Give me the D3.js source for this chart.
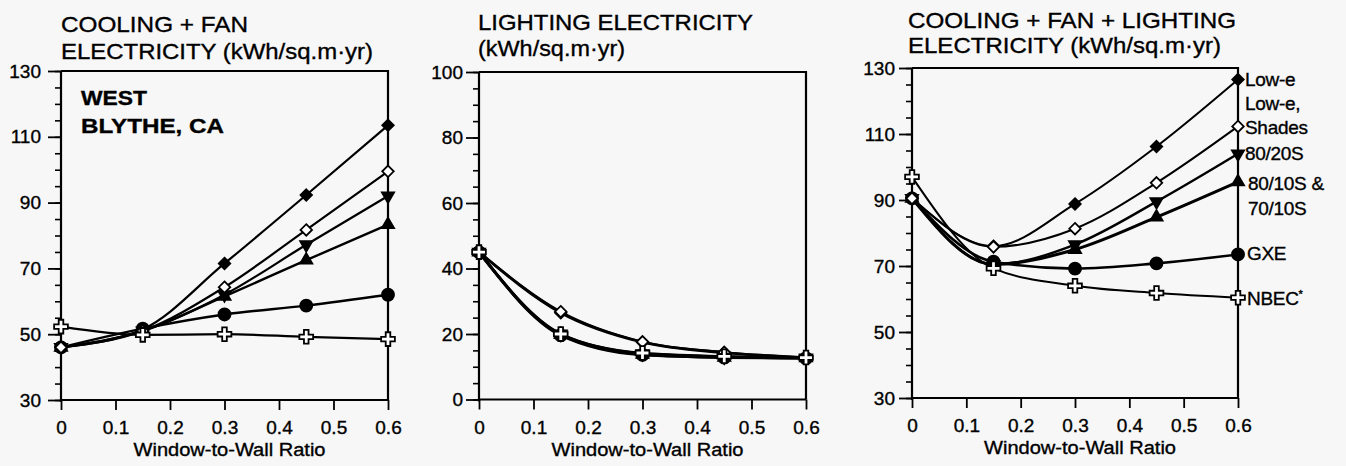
<!DOCTYPE html>
<html>
<head>
<meta charset="utf-8">
<script src="https://cdn.jsdelivr.net/npm/d3@7"></script>
<style>
  html, body { margin: 0; padding: 0; background: #f7f7f7; }
  svg { display: block; }
  text { font-family: "Liberation Sans", Arial, Helvetica, sans-serif; fill: #000; stroke: #000; stroke-width: 0.35px; }
</style>
</head>
<body>
<svg id="chart" width="1346" height="466"></svg>
<script>
// ---------------- DATA ----------------
const wwr = [0, 0.15, 0.3, 0.45, 0.6];
const xTicks = [0, 0.1, 0.2, 0.3, 0.4, 0.5, 0.6];
const xTickLabels = ["0", "0.1", "0.2", "0.3", "0.4", "0.5", "0.6"];
const seriesNames = ["Low-e", "Low-e, Shades", "80/20S", "80/10S & 70/10S", "GXE", "NBEC*"];

// Cooling + fan electricity (kWh/sq.m-yr)
const coolLowE   = [46, 51.5, 71.5, 92.3, 113.5];
const coolShades = [46, 51, 64.3, 81.7, 99.5];
const cool8020   = [46, 51, 62, 77.2, 92];
const cool8010   = [46, 51, 61.5, 72.5, 83.3];
const coolGXE    = [46, 51.7, 56, 58.7, 62];
const coolNBEC   = [52.3, 49.8, 50, 49.2, 48.5];

// Lighting electricity
const lightLowE   = [45, 26.5, 17.5, 14.3, 12.8];
const lightShades = [45, 26.8, 17.6, 14.4, 12.8];
const light8020   = [45, 20, 14, 13, 12.7];
const light8010   = [45, 19.8, 13.8, 12.9, 12.7];
const lightGXE    = [45, 19.6, 13.6, 12.8, 12.6];
const lightNBEC   = [45, 20, 14.2, 13.2, 12.8];

// Cooling + fan + lighting electricity
const totLowE   = [90.5, 76, 88.8, 106.2, 126.5];
const totShades = [90.5, 75.8, 81.3, 95.2, 112.3];
const tot8020   = [90.5, 70.5, 76.5, 89.5, 104];
const tot8010   = [90.5, 70.5, 75, 84.8, 95.5];
const totGXE    = [90.5, 71.3, 69.2, 70.8, 73.5];
const totNBEC   = [97, 69.3, 64, 61.8, 60.4];

const yTicksCool = [30, 50, 70, 90, 110, 130];
const yTicksLight = [0, 20, 40, 60, 80, 100];

// ---------------- MARKERS ----------------
const diamondType = { draw(ctx, size) { const r = Math.sqrt(size / 2);
  ctx.moveTo(0, -r); ctx.lineTo(r, 0); ctx.lineTo(0, r); ctx.lineTo(-r, 0); ctx.closePath(); } };
const markerStyles = [
  { type: diamondType, size: 66, fill: "#000", rot: 0 },        // Low-e
  { type: diamondType, size: 66, fill: "#fff", rot: 0 },        // Low-e, Shades
  { type: d3.symbolTriangle, size: 64, fill: "#000", rot: 180 },// 80/20S
  { type: d3.symbolTriangle, size: 64, fill: "#000", rot: 0 },  // 80/10S
  { type: d3.symbolCircle, size: 115, fill: "#000", rot: 0 },   // GXE
  { type: d3.symbolCross, size: 105, fill: "#fff", rot: 0 }     // NBEC
];
const drawOrder = [4, 3, 2, 0, 1, 5];

const svg = d3.select("#chart");

function panel(cfg) {
  const x = d3.scaleLinear().domain([0, 0.6]).range([cfg.x0, cfg.x1]);
  const y = d3.scaleLinear().domain(cfg.yDomain).range([cfg.yBot, cfg.yTop]);
  const g = svg.append("g");

  // frame top & right
  g.append("path")
    .attr("d", `M${cfg.x0},${cfg.yTop}H${cfg.x1}V${cfg.yBot}`)
    .attr("fill", "none").attr("stroke", "#000").attr("stroke-width", 2.2);

  // y minor ticks
  const minor = d3.range(cfg.yDomain[0], cfg.yDomain[1] + 0.01, 5);
  g.append("g").attr("transform", `translate(${cfg.x0},0)`)
    .call(d3.axisLeft(y).tickValues(minor).tickSize(6).tickFormat(""))
    .call(s => s.select(".domain").remove())
    .call(s => s.selectAll("line").attr("stroke-width", 1.6));
  // y major
  g.append("g").attr("transform", `translate(${cfg.x0},0)`)
    .call(d3.axisLeft(y).tickValues(cfg.yTicks).tickSize(13).tickPadding(cfg.yPad).tickFormat(d3.format("d")))
    .call(s => s.select(".domain").attr("stroke-width", 2.2).attr("d", `M0,${cfg.yTop}V${cfg.yBot + 2}`))
    .call(s => s.selectAll("line").attr("stroke-width", 1.8))
    .call(s => s.selectAll("text").style("font-size", "19px"));
  // x axis
  g.append("g").attr("transform", `translate(0,${cfg.yBot})`)
    .call(d3.axisBottom(x).tickValues(xTicks).tickSize(10).tickPadding(11)
      .tickFormat((d, i) => xTickLabels[i]))
    .call(s => s.select(".domain").attr("stroke-width", 2.2).attr("d", `M${cfg.x0},0H${cfg.x1}`))
    .call(s => s.selectAll("line").attr("stroke-width", 1.8))
    .call(s => s.selectAll("text").style("font-size", "19px"));

  // axis label
  g.append("text")
    .attr("x", (cfg.x0 + cfg.x1) / 2 + 5).attr("y", cfg.yBot + 56)
    .attr("text-anchor", "middle").style("font-size", "18px")
    .attr("textLength", 192).attr("lengthAdjust", "spacingAndGlyphs")
    .text("Window-to-Wall Ratio");

  // titles
  cfg.titles.forEach(t => {
    g.append("text").attr("x", t.x).attr("y", t.y).style("font-size", "22px")
      .attr("textLength", t.w).attr("lengthAdjust", "spacingAndGlyphs").text(t.text);
  });

  // lines
  const line = d3.line().x((d, i) => x(wwr[i])).y(d => y(d)).curve(d3.curveMonotoneX);
  drawOrder.forEach(k => {
    g.append("path").attr("d", line(cfg.series[k]))
      .attr("fill", "none").attr("stroke", "#000")
      .attr("stroke-width", cfg.lineWidths[k]).attr("stroke-linejoin", "round");
  });
  // markers
  drawOrder.forEach(k => {
    const m = markerStyles[k];
    g.append("g").selectAll("path").data(cfg.series[k]).join("path")
      .attr("d", d3.symbol().type(m.type).size(m.size))
      .attr("transform", (d, i) => `translate(${x(wwr[i])},${y(d)}) rotate(${m.rot})`)
      .attr("fill", m.fill).attr("stroke", "#000").attr("stroke-width", 1.8);
  });
  return { x, y, g };
}

panel({
  x0: 61, x1: 388, yTop: 71, yBot: 400, yDomain: [30, 130], yTicks: yTicksCool, yPad: 7,
  series: [coolLowE, coolShades, cool8020, cool8010, coolGXE, coolNBEC],
  lineWidths: [2.2, 2.2, 2.2, 2.4, 2.4, 2.2],
  titles: [
    { text: "COOLING + FAN", x: 61, y: 32, w: 187 },
    { text: "ELECTRICITY (kWh/sq.m\u00b7yr)", x: 61, y: 59, w: 312 }
  ]
});
svg.append("text").attr("x", 81).attr("y", 105).style("font-size", "21px").style("font-weight", "bold")
  .attr("textLength", 66).attr("lengthAdjust", "spacingAndGlyphs").text("WEST");
svg.append("text").attr("x", 81).attr("y", 133).style("font-size", "21px").style("font-weight", "bold")
  .attr("textLength", 143).attr("lengthAdjust", "spacingAndGlyphs").text("BLYTHE, CA");

panel({
  x0: 479, x1: 806, yTop: 72, yBot: 399.5, yDomain: [0, 100], yTicks: yTicksLight, yPad: 3,
  series: [lightLowE, lightShades, light8020, light8010, lightGXE, lightNBEC],
  lineWidths: [2.8, 2.4, 2.8, 2.8, 2.8, 2.4],
  titles: [
    { text: "LIGHTING ELECTRICITY", x: 478, y: 30, w: 275 },
    { text: "(kWh/sq.m\u00b7yr)", x: 478, y: 56, w: 147 }
  ]
});

panel({
  x0: 912, x1: 1238, yTop: 68, yBot: 398, yDomain: [30, 130], yTicks: yTicksCool, yPad: 4,
  series: [totLowE, totShades, tot8020, tot8010, totGXE, totNBEC],
  lineWidths: [2, 2, 2.4, 3, 2.6, 2],
  titles: [
    { text: "COOLING + FAN + LIGHTING", x: 908, y: 28, w: 328 },
    { text: "ELECTRICITY (kWh/sq.m\u00b7yr)", x: 908, y: 53, w: 313 }
  ]
});

// series labels on right of panel 3
const legendLines = [
  { t: "Low-e", y: 86, x: 1245 },
  { t: "Low-e,", y: 110, x: 1245 },
  { t: "Shades", y: 134, x: 1245 },
  { t: "80/20S", y: 160, x: 1245 },
  { t: "80/10S &", y: 190, x: 1248 },
  { t: "70/10S", y: 215, x: 1248 },
  { t: "GXE", y: 260, x: 1247 },
  { t: "NBEC", y: 305, x: 1247 }
];
legendLines.forEach(l => {
  const t = svg.append("text").attr("x", l.x).attr("y", l.y).style("font-size", "19px")
    .style("letter-spacing", "-0.3px").text(l.t);
  if (l.t === "NBEC") t.append("tspan").attr("dy", -7).style("font-size", "11px").text("*");
});
</script>
</body>
</html>
